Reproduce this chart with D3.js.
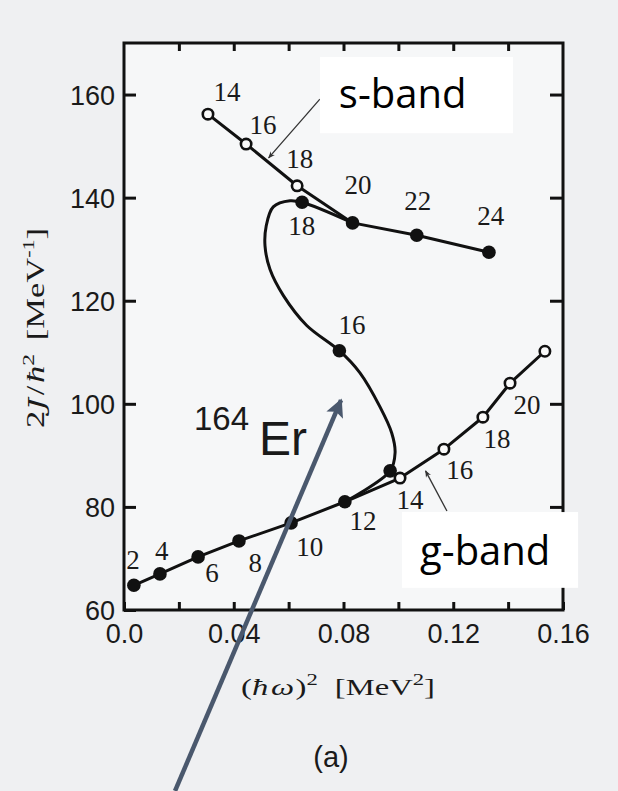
<!DOCTYPE html>
<html><head><meta charset="utf-8">
<script src="https://cdn.jsdelivr.net/npm/d3@7"></script>
<style>html,body{margin:0;padding:0;background:#eff0f2;} svg{display:block}</style>
</head><body><svg id="c" width="618" height="791"></svg>
<script>
// ---------- data ----------
const xTicks = [0, 0.02, 0.04, 0.06, 0.08, 0.10, 0.12, 0.14, 0.16];
const xTickLabels = ["0.0", "", "0.04", "", "0.08", "", "0.12", "", "0.16"];
const yTicks = [60, 80, 100, 120, 140, 160];
const yTickLabels = ["60", "80", "100", "120", "140", "160"];

// ground band: filled points (yrast) 2..12, open points 14..22
const gFilledSpins = [2, 4, 6, 8, 10, 12];
const gFilledX = [0.0036, 0.0131, 0.0270, 0.0419, 0.0609, 0.0805];
const gFilledY = [64.8, 67.0, 70.3, 73.4, 76.9, 81.0];
const gOpenSpins = [14, 16, 18, 20, 22];
const gOpenX = [0.1006, 0.1166, 0.1308, 0.1407, 0.1534];
const gOpenY = [85.6, 91.2, 97.4, 104.0, 110.2];

// s-band: open points 14..18, filled points 20..24
const sOpenSpins = [14, 16, 18];
const sOpenX = [0.0306, 0.0445, 0.0631];
const sOpenY = [156.2, 150.4, 142.3];
const sFilledSpins = [20, 22, 24];
const sFilledX = [0.0833, 0.1067, 0.1330];
const sFilledY = [135.1, 132.7, 129.4];

// backbending yrast points 14..18
const bbSpins = [14, 16, 18];
const bbX = [0.0970, 0.0785, 0.0649];
const bbY = [87.0, 110.3, 139.1];

// smooth back-bending curve (12 -> 14 -> 16 -> 18 -> 20)
const curveX = [0.0805, 0.0970, 0.0988, 0.0976, 0.0933, 0.0860, 0.0785, 0.0666, 0.0581, 0.0532, 0.0514, 0.0518, 0.0544, 0.0605, 0.0649, 0.0833];
const curveY = [81.0, 87.0, 90.5, 94.3, 99.4, 106.0, 110.3, 115.2, 121.0, 126.1, 130.6, 134.4, 138.2, 139.4, 139.1, 135.1];

// spin label positions (data units)
const gLabelX = [0.0033, 0.0138, 0.0321, 0.0478, 0.0677, 0.0871, 0.1042, 0.1224, 0.1359, 0.1469];
const gLabelY = [69.7, 71.6, 67.2, 69.2, 72.3, 77.4, 81.5, 87.2, 93.2, 99.8];
const gLabelTxt = ["2", "4", "6", "8", "10", "12", "14", "16", "18", "20"];
const sLabelX = [0.0375, 0.0507, 0.0641, 0.0648, 0.0853, 0.1071, 0.1337, 0.0831];
const sLabelY = [160.6, 154.2, 147.5, 134.5, 142.5, 139.4, 136.5, 115.3];
const sLabelTxt = ["14", "16", "18", "18", "20", "22", "24", "16"];

// annotations (data units)
const sBox = {x0: 0.0714, x1: 0.1418, y0: 167.3, y1: 152.5, tx: 0.0783, ty: 157.4, text: "s-band"};
const gBox = {x0: 0.1013, x1: 0.1655, y0: 79.0, y1: 64.3, tx: 0.1079, ty: 68.7, text: "g-band"};
const sArrow = [[0.0714, 159.1], [0.0527, 147.7]];
const gArrow = [[0.1177, 79.2], [0.1099, 87.0]];
const bigArrow = [[0.0186, 24.9], [0.0791, 100.7]];

// ---------- drawing ----------
const svg = d3.select("#c");
const x = d3.scaleLinear().domain([0, 0.16]).range([124, 563]);
const y = d3.scaleLinear().domain([60, 170]).range([610, 43]);

svg.append("rect").attr("width", 618).attr("height", 791).attr("fill", "#eff0f2");
svg.append("rect").attr("x", x(0)).attr("y", y(170)).attr("width", x(0.16) - x(0)).attr("height", y(60) - y(170)).attr("fill", "#f6f7f8");

const defs = svg.append("defs");
defs.append("marker").attr("id", "thin").attr("viewBox", "0 0 10 10").attr("refX", 9).attr("refY", 5)
  .attr("markerWidth", 8).attr("markerHeight", 7).attr("orient", "auto").attr("markerUnits", "userSpaceOnUse")
  .append("path").attr("d", "M0,1 L10,5 L0,9 L3,5 Z").attr("fill", "#333");
defs.append("marker").attr("id", "big").attr("viewBox", "0 0 10 10").attr("refX", 9).attr("refY", 5)
  .attr("markerWidth", 20).attr("markerHeight", 18).attr("orient", "auto").attr("markerUnits", "userSpaceOnUse")
  .append("path").attr("d", "M0,0 L10,5 L0,10 L2,5 Z").attr("fill", "#4a586d");

// axes
const sans = "'Liberation Sans', Arial, sans-serif";
const serif = "'Liberation Serif', 'Times New Roman', serif";
function style(g) {
  g.select(".domain").remove();
  g.selectAll(".tick line").attr("stroke", "#111").attr("stroke-width", 3);
}
svg.append("g").attr("transform", `translate(${x(0)},0)`)
  .call(d3.axisLeft(y).tickValues(yTicks).tickSize(-12).tickPadding(9).tickFormat((d, i) => yTickLabels[i]))
  .call(style)
  .call(g => g.selectAll("text").attr("font-family", sans).attr("font-size", 27).attr("fill", "#1a1a1a").attr("dy", "0.36em"));
svg.append("g").attr("transform", `translate(0,${y(60)})`)
  .call(d3.axisBottom(x).tickValues(xTicks).tickSize(-8).tickPadding(14).tickFormat((d, i) => xTickLabels[i]))
  .call(style)
  .call(g => g.selectAll("text").attr("font-family", sans).attr("font-size", 27).attr("fill", "#1a1a1a"));
svg.append("g").attr("transform", `translate(0,${y(170)})`)
  .call(d3.axisTop(x).tickValues(xTicks.slice(1, -1)).tickSize(-8).tickFormat(""))
  .call(style);
svg.append("g").attr("transform", `translate(${x(0.16)},0)`)
  .call(d3.axisRight(y).tickValues(yTicks.slice(1)).tickSize(-13).tickFormat(""))
  .call(style);
svg.append("rect").attr("x", x(0)).attr("y", y(170)).attr("width", x(0.16) - x(0)).attr("height", y(60) - y(170))
  .attr("fill", "none").attr("stroke", "#111").attr("stroke-width", 3);

// lines
const line = d3.line().x(d => x(d[0])).y(d => y(d[1]));
const gLine = gFilledX.map((v, i) => [v, gFilledY[i]]).concat(gOpenX.map((v, i) => [v, gOpenY[i]]));
const sLine = sOpenX.map((v, i) => [v, sOpenY[i]]).concat(sFilledX.map((v, i) => [v, sFilledY[i]]));
const cLine = curveX.map((v, i) => [v, curveY[i]]);
const lineStyle = p => p.attr("fill", "none").attr("stroke", "#111").attr("stroke-width", 3).attr("stroke-linejoin", "round");
svg.append("path").attr("d", line(gLine)).call(lineStyle);
svg.append("path").attr("d", line(sLine)).call(lineStyle);
const smooth = d3.line().x(d => x(d[0])).y(d => y(d[1])).curve(d3.curveCatmullRom.alpha(0.5));
svg.append("path").attr("d", smooth(cLine)).call(lineStyle);

// markers
function filled(xs, ys) {
  svg.append("g").selectAll("circle").data(xs).join("circle")
    .attr("cx", d => x(d)).attr("cy", (d, i) => y(ys[i])).attr("r", 6.8).attr("fill", "#111");
}
function open(xs, ys) {
  svg.append("g").selectAll("circle").data(xs).join("circle")
    .attr("cx", d => x(d)).attr("cy", (d, i) => y(ys[i])).attr("r", 5.2).attr("fill", "#fafafa")
    .attr("stroke", "#111").attr("stroke-width", 2.6);
}
filled(gFilledX, gFilledY);
open(gOpenX, gOpenY);
open(sOpenX, sOpenY);
filled(sFilledX, sFilledY);
filled(bbX, bbY);

// spin labels
function labels(xs, ys, txt) {
  svg.append("g").selectAll("text").data(txt).join("text")
    .attr("x", (d, i) => x(xs[i])).attr("y", (d, i) => y(ys[i]))
    .attr("text-anchor", "middle").attr("dy", "0.35em")
    .attr("font-family", serif).attr("font-size", 27).attr("fill", "#1a1a1a").text(d => d);
}
labels(gLabelX, gLabelY, gLabelTxt);
labels(sLabelX, sLabelY, sLabelTxt);

// nucleus label
const nuc = svg.append("text").attr("x", x(0.0255)).attr("y", y(90.3))
  .attr("font-family", sans).attr("fill", "#1a1a1a");
nuc.append("tspan").attr("font-size", 33).attr("dy", "-0.72em").text("164");
nuc.append("tspan").attr("font-size", 48).attr("dx", 10).attr("dy", "0.52em").text("Er");

// axis titles
const xt = svg.append("text").attr("transform", "translate(338,695) scale(1.42,1)").attr("text-anchor", "middle")
  .attr("font-family", serif).attr("font-size", 23).attr("fill", "#1a1a1a");
xt.append("tspan").text("(");
xt.append("tspan").attr("font-style", "italic").text("ħ");
xt.append("tspan").attr("font-style", "italic").attr("dx", 2).text("ω");
xt.append("tspan").attr("dx", 1).text(")");
xt.append("tspan").attr("font-size", 16).attr("dy", -10).text("2");
xt.append("tspan").attr("dy", 10).attr("dx", 12).text("[MeV");
xt.append("tspan").attr("font-size", 16).attr("dy", -10).text("2");
xt.append("tspan").attr("dy", 10).text("]");

const yt = svg.append("text").attr("transform", "translate(44,328) rotate(-90) scale(1.38,1)").attr("text-anchor", "middle")
  .attr("font-family", serif).attr("font-size", 25).attr("fill", "#1a1a1a");
yt.append("tspan").text("2");
yt.append("tspan").attr("font-style", "italic").attr("font-family", "'DejaVu Serif', serif").attr("font-size", 23).text("J");
yt.append("tspan").attr("dx", 2).text("/");
yt.append("tspan").attr("font-style", "italic").attr("dx", 2).text("ħ");
yt.append("tspan").attr("font-size", 17).attr("dy", -10).text("2");
yt.append("tspan").attr("dy", 10).attr("dx", 10).text("[MeV");
yt.append("tspan").attr("font-size", 16).attr("dy", -10).text("-1");
yt.append("tspan").attr("dy", 10).text("]");

svg.append("text").attr("x", 331).attr("y", 767).attr("text-anchor", "middle")
  .attr("font-family", sans).attr("font-size", 29).attr("fill", "#1a1a1a").text("(a)");

// annotation arrows and boxes
svg.append("path").attr("d", line(sArrow)).attr("stroke", "#333").attr("stroke-width", 1.3)
  .attr("fill", "none").attr("marker-end", "url(#thin)");
svg.append("path").attr("d", line(gArrow)).attr("stroke", "#333").attr("stroke-width", 1.3)
  .attr("fill", "none").attr("marker-end", "url(#thin)");
[sBox, gBox].forEach(b => {
  svg.append("rect").attr("x", x(b.x0)).attr("y", y(b.y0)).attr("width", x(b.x1) - x(b.x0))
    .attr("height", y(b.y1) - y(b.y0)).attr("fill", "#ffffff");
  svg.append("text").attr("x", x(b.tx)).attr("y", y(b.ty))
    .attr("text-anchor", "start").attr("font-family", "'Open Sans', 'Noto Sans', sans-serif")
    .attr("font-size", 40).attr("fill", "#000").text(b.text);
});
svg.append("path").attr("d", line(bigArrow)).attr("stroke", "#4a586d").attr("stroke-width", 4.5)
  .attr("fill", "none").attr("marker-end", "url(#big)");
</script></body></html>
